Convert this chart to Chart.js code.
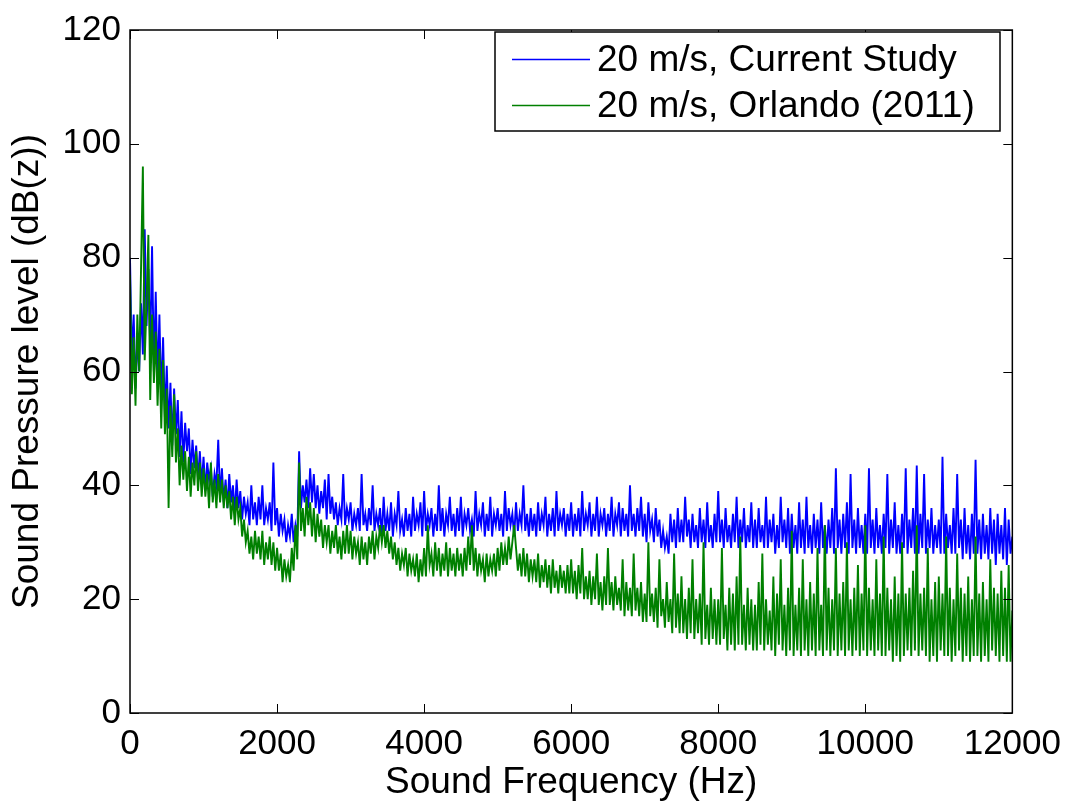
<!DOCTYPE html>
<html>
<head>
<meta charset="utf-8">
<title>Sound Pressure level vs Sound Frequency</title>
<script src="https://cdn.jsdelivr.net/npm/chart.js@4/dist/chart.umd.min.js"></script>
<style>
  html, body { margin: 0; padding: 0; background: #fff; }
  canvas { display: block; }
</style>
</head>
<body>
<canvas id="spl" width="1071" height="805"></canvas>
<script>
// spectra sampled every 25 Hz from 0 to 12000 Hz, one row = 500 Hz
var FREQ_STEP = 25;

// 20 m/s, current study (dB(z))
var currentStudy = [
  80, 62, 70, 57, 66, 60, 72, 63, 85, 68, 78, 64, 82, 60, 74, 58, 70, 55, 66, 52,   // 0
  61, 50, 58, 47, 57, 49, 55, 45, 53, 44, 51, 46, 50, 42, 48, 43, 47, 41, 46, 40,   // 500
  45, 39, 44, 41, 43, 38, 42, 40, 48, 38, 43, 37, 41, 36, 42, 37, 40, 35, 41, 36,   // 1000
  39, 34, 38, 35, 37, 33, 40, 34, 37, 33, 38, 34, 40, 33, 36, 34, 37, 32, 44, 33,   // 1500
  36, 31, 35, 32, 34, 30, 33, 31, 35, 30, 33, 31, 46, 36, 40, 37, 41, 36, 43, 37,   // 2000
  42, 36, 40, 35, 39, 36, 41, 34, 42, 35, 38, 34, 37, 33, 36, 34, 42, 33, 36, 34,   // 2500
  37, 32, 35, 33, 36, 32, 42, 33, 35, 32, 36, 33, 40, 32, 35, 33, 36, 31, 38, 32,   // 3000
  35, 32, 37, 31, 35, 33, 39, 32, 34, 31, 36, 32, 35, 31, 38, 32, 35, 33, 37, 31,   // 3500
  39, 32, 35, 33, 36, 31, 35, 32, 40, 32, 36, 31, 35, 33, 38, 32, 35, 31, 36, 32,   // 4000
  38, 31, 35, 33, 36, 32, 34, 31, 39, 32, 35, 33, 37, 31, 35, 32, 38, 31, 35, 33,   // 4500
  36, 32, 35, 31, 39, 32, 36, 33, 35, 31, 37, 32, 35, 33, 40, 32, 35, 31, 36, 32,   // 5000
  35, 31, 37, 32, 35, 33, 38, 31, 35, 32, 36, 31, 39, 32, 35, 33, 36, 31, 35, 32,   // 5500
  37, 31, 35, 32, 36, 31, 39, 32, 35, 33, 37, 31, 35, 32, 38, 31, 35, 33, 36, 31,   // 6000
  35, 32, 38, 31, 35, 33, 37, 31, 36, 32, 35, 31, 40, 32, 35, 31, 36, 32, 38, 31,   // 6500
  35, 30, 37, 32, 34, 30, 36, 31, 34, 29, 32, 29, 31, 28, 35, 30, 34, 29, 36, 30,   // 7000
  34, 30, 38, 31, 34, 29, 35, 30, 33, 29, 36, 30, 34, 29, 37, 30, 33, 29, 35, 30,   // 7500
  39, 30, 34, 29, 36, 30, 33, 29, 35, 30, 38, 29, 34, 30, 36, 29, 33, 30, 37, 29,   // 8000
  34, 29, 36, 30, 33, 29, 38, 29, 34, 30, 35, 28, 33, 29, 38, 30, 34, 29, 36, 28,   // 8500
  35, 29, 33, 28, 37, 29, 34, 28, 38, 29, 33, 28, 35, 29, 34, 28, 37, 29, 33, 28,   // 9000
  34, 29, 36, 28, 43, 29, 34, 28, 35, 29, 37, 28, 42, 29, 34, 28, 36, 29, 33, 28,   // 9500
  35, 28, 43, 29, 34, 28, 36, 29, 33, 28, 35, 29, 42, 28, 34, 29, 37, 28, 33, 28,   // 10000
  35, 29, 43, 28, 34, 29, 36, 28, 43.5, 28, 35, 29, 42, 28, 34, 29, 36, 28, 33, 29, // 10500
  34, 28, 45, 28, 35, 29, 33, 28, 36, 28, 42, 29, 34, 27, 36, 28, 33, 27, 35, 28,   // 11000
  44.5, 28, 34, 27, 35, 28, 33, 27, 36, 28, 34, 26, 35, 28, 33, 27, 36, 26, 34, 28, // 11500
  31                                                                                // 12000
];

// 20 m/s, Orlando (2011) (dB(z))
var orlando2011 = [
  77, 56, 66, 54, 70, 60, 78, 96, 62, 72, 84, 55, 70, 58, 67, 54, 64, 50, 62, 49,   // 0
  57, 36, 54, 45, 56, 44, 50, 40, 47, 41, 46, 39, 45, 38, 44, 40, 46, 39, 44, 38,   // 500
  43, 38, 42, 36, 44, 37, 41, 36, 42, 37, 41, 36, 40, 36, 39, 34, 38, 33, 38, 34,   // 1000
  36, 31, 34, 30, 32, 28, 31, 27, 32, 28, 31, 27, 32, 26, 30, 27, 31, 26, 30, 25,   // 1500
  29, 25, 28, 23, 27, 24, 26, 23, 29, 25, 33, 27, 44, 32, 36, 31, 38, 33, 37, 31,   // 2000
  36, 30, 35, 31, 34, 29, 33, 30, 33, 28, 32, 29, 33, 28, 31, 27, 32, 28, 33, 28,   // 2500
  32, 27, 31, 28, 30, 26, 31, 27, 30, 26, 31, 28, 32, 27, 31, 29, 33, 30, 33, 29,   // 3000
  32, 28, 31, 27, 30, 26, 29, 25, 28, 26, 29, 24, 28, 25, 27, 24, 28, 23, 27, 24,   // 3500
  29, 24, 33, 26, 28, 24, 30, 25, 29, 24, 28, 25, 30, 24, 29, 25, 28, 24, 29, 25,   // 4000
  28, 24, 29, 25, 31, 26, 33, 25, 29, 24, 28, 25, 27, 23, 28, 24, 27, 25, 28, 24,   // 4500
  29, 25, 30, 26, 29, 26, 31, 27, 30, 33, 29, 25, 28, 24, 29, 24, 28, 23, 27, 24,   // 5000
  27, 23, 28, 22, 26, 23, 27, 22, 26, 21, 27, 22, 25, 21, 26, 22, 25, 21, 26, 21,   // 5500
  27, 21, 25, 20, 26, 21, 29, 20, 24, 20, 25, 19, 24, 20, 28, 19, 23, 18, 24, 19,   // 6000
  29, 19, 23, 18, 24, 19, 22, 18, 27, 17, 23, 18, 22, 17, 28, 18, 22, 17, 23, 16,   // 6500
  21, 16, 30, 17, 21, 16, 22, 15, 27, 17, 20, 15, 23, 16, 20, 14, 28, 15, 21, 14,   // 7000
  24, 14, 20, 13, 22, 14, 27, 13, 20, 14, 21, 12, 30, 13, 19, 12, 22, 13, 20, 12,   // 7500
  20, 12, 29, 13, 19, 11, 22, 12, 21, 11, 24, 12, 31, 12, 19, 11, 22, 12, 20, 11,   // 8000
  19, 11, 23, 12, 28, 11, 20, 12, 18, 11, 24, 10, 21, 12, 27, 11, 19, 10, 22, 11,   // 8500
  32, 10, 19, 11, 22, 10, 27, 11, 20, 10, 23, 11, 21, 10, 29, 11, 19, 10, 33, 11,   // 9000
  22, 10, 20, 11, 29, 10, 21, 11, 23, 10, 30, 11, 20, 10, 22, 11, 26, 10, 21, 11,   // 9500
  33, 10, 22, 11, 20, 10, 27, 11, 21, 10, 31, 10, 22, 11, 20, 9, 24, 10, 21, 9,     // 10000
  30, 10, 21, 11, 22, 10, 25, 11, 33, 10, 21, 11, 22, 10, 29, 9, 20, 10, 23, 9,     // 10500
  24, 11, 21, 10, 31, 10, 22, 9, 20, 10, 28, 11, 22, 9, 21, 10, 24, 9, 20, 10,      // 11000
  31, 10, 21, 9, 23, 10, 20, 9, 27, 11, 22, 10, 21, 9, 25, 10, 22, 9, 26, 9,        // 11500
  18                                                                                // 12000
];

var seriesLabels = ['20 m/s, Current Study', '20 m/s, Orlando (2011)'];
var seriesColors = ['#0000ff', '#008000'];

var xTicks = [0, 2000, 4000, 6000, 8000, 10000, 12000];
var yTicks = [0, 20, 40, 60, 80, 100, 120];

var FONT = '"Liberation Sans", Arial, Helvetica, sans-serif';

function toPoints(values) {
  return values.map(function(v, i) {
    return { x: i * FREQ_STEP, y: v };
  });
}

// black frame round the plot with inward ticks on all four sides,
// plus a boxed legend in the upper right corner
var matlabFrame = {
  id: 'matlabFrame',
  afterDraw: function(chart) {
    var c = chart.ctx;
    var a = chart.chartArea;
    var xs = chart.scales.x, ys = chart.scales.y;
    var tl = 9;

    c.save();
    c.strokeStyle = '#000';
    c.lineWidth = 1.5;
    c.strokeRect(a.left, a.top, a.right - a.left, a.bottom - a.top);

    c.beginPath();
    xTicks.forEach(function(t) {
      var px = Math.round(xs.getPixelForValue(t)) + 0.5;
      c.moveTo(px, a.bottom); c.lineTo(px, a.bottom - tl);
      c.moveTo(px, a.top); c.lineTo(px, a.top + tl);
    });
    yTicks.forEach(function(t) {
      var py = Math.round(ys.getPixelForValue(t)) + 0.5;
      c.moveTo(a.left, py); c.lineTo(a.left + tl, py);
      c.moveTo(a.right, py); c.lineTo(a.right - tl, py);
    });
    c.lineWidth = 1;
    c.stroke();

    // legend
    var bx = 495, by = 32, bw = 505, bh = 99;
    c.fillStyle = '#fff';
    c.fillRect(bx, by, bw, bh);
    c.lineWidth = 1.5;
    c.strokeStyle = '#000';
    c.strokeRect(bx, by, bw, bh);

    c.font = '37px ' + FONT;
    c.textBaseline = 'middle';
    c.textAlign = 'left';
    var rows = [59.5, 105.5];
    for (var i = 0; i < seriesLabels.length; i++) {
      c.beginPath();
      c.strokeStyle = seriesColors[i];
      c.lineWidth = 1.3;
      c.moveTo(512, rows[i]);
      c.lineTo(590, rows[i]);
      c.stroke();
      c.fillStyle = '#000';
      c.fillText(seriesLabels[i], 597, rows[i] + 1);
    }
    c.restore();
  }
};

var ctx = document.getElementById('spl').getContext('2d');

var chart = new Chart(ctx, {
  type: 'line',
  data: {
    datasets: [
      {
        label: seriesLabels[0],
        data: toPoints(currentStudy),
        borderColor: seriesColors[0],
        borderWidth: 1.9,
        pointRadius: 0,
        tension: 0,
        order: 2
      },
      {
        // Orlando sits on top of the current study
        label: seriesLabels[1],
        data: toPoints(orlando2011),
        borderColor: seriesColors[1],
        borderWidth: 1.9,
        pointRadius: 0,
        tension: 0,
        order: 1
      }
    ]
  },
  options: {
    responsive: false,
    animation: false,
    events: [],
    layout: {
      padding: { top: 20, right: 58, left: 0, bottom: 0 }
    },
    plugins: {
      legend: { display: false },
      tooltip: { enabled: false }
    },
    scales: {
      x: {
        type: 'linear',
        min: 0,
        max: 12000,
        grid: { display: false, drawTicks: false },
        border: { display: false },
        afterBuildTicks: function(scale) {
          scale.ticks = xTicks.map(function(v) { return { value: v }; });
        },
        afterFit: function(scale) { scale.height = 92; },
        ticks: {
          color: '#000',
          padding: 10,
          maxRotation: 0,
          font: { family: FONT, size: 35 },
          callback: function(value) { return String(value); }
        },
        title: {
          display: true,
          text: 'Sound Frequency (Hz)',
          color: '#000',
          padding: { top: 0, bottom: 0 },
          font: { family: FONT, size: 37 }
        }
      },
      y: {
        min: 0,
        max: 120,
        grid: { display: false, drawTicks: false },
        border: { display: false },
        afterBuildTicks: function(scale) {
          scale.ticks = yTicks.map(function(v) { return { value: v }; });
        },
        afterFit: function(scale) { scale.width = 130; },
        ticks: {
          color: '#000',
          padding: 9,
          font: { family: FONT, size: 35 },
          callback: function(value) { return String(value); }
        },
        title: {
          display: true,
          text: 'Sound Pressure level (dB(z))',
          color: '#000',
          padding: { top: 6, bottom: 0 },
          font: { family: FONT, size: 37 }
        }
      }
    }
  },
  plugins: [matlabFrame]
});
</script>
</body>
</html>
